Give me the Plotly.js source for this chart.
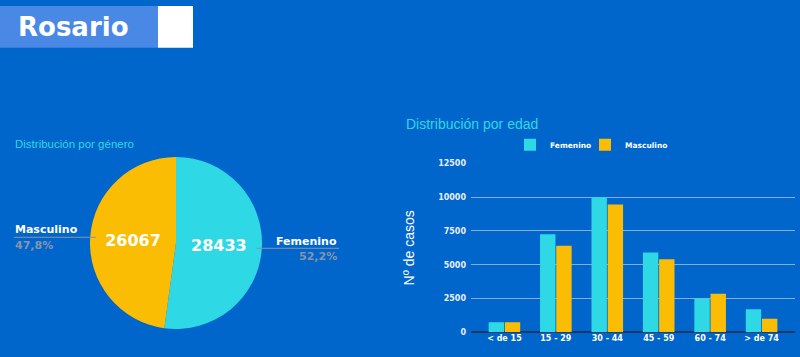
<!DOCTYPE html>
<html><head><meta charset="utf-8">
<script src="https://cdn.plot.ly/plotly-3.0.1.min.js"></script>
<style>html,body{margin:0;padding:0;background:#0066cc;}#chart{width:800px;height:357px;}</style>
</head><body><div id="chart"></div>
<script>
// ---- data ----
const genderLabels = ["Femenino", "Masculino"];
const genderValues = [28433, 26067];
const ageGroups = ["< de 15", "15 - 29", "30 - 44", "45 - 59", "60 - 74", "> de 74"];
const femValues = [750, 7250, 10000, 5900, 2500, 1700];
const mascValues = [750, 6400, 9450, 5400, 2850, 1000];
const yTicks = [0, 2500, 5000, 7500, 10000, 12500];
const cityName = "Rosario";

// ---- style ----
const W = 800, H = 357;
const BG = "#0066cc", CYAN = "#2ed8e4", YELLOW = "#fbbc04", GRAY = "#8894a8";
const px = x => x / W, py = y => (H - y) / H;
const BOLD = "DejaVu Sans";

const total = genderValues.reduce((a, b) => a + b, 0);
const pct = v => (v / total * 100).toFixed(1).replace(".", ",") + "%";

const traces = [
  {
    type: "pie", labels: genderLabels, values: genderValues, sort: false,
    direction: "clockwise", rotation: 0,
    marker: {colors: [CYAN, YELLOW], line: {width: 0}},
    texttemplate: "%{value:.0f}", textposition: "inside", insidetextorientation: "horizontal",
    textfont: {family: BOLD, size: 16, color: "#ffffff", weight: "bold"},
    domain: {x: [px(90), px(262)], y: [py(329), py(157)]},
    showlegend: false, hoverinfo: "none"
  },
  {
    type: "bar", name: "Femenino", x: ageGroups, y: femValues,
    marker: {color: CYAN}, hoverinfo: "none", legend: "legend"
  },
  {
    type: "bar", name: "Masculino", x: ageGroups, y: mascValues,
    marker: {color: YELLOW}, hoverinfo: "none", legend: "legend2"
  }
];

const annotations = [
  {text: cityName, x: px(16), y: py(27), xref: "paper", yref: "paper", xanchor: "left", yanchor: "middle",
   showarrow: false, font: {family: BOLD, size: 26, color: "#ffffff", weight: "bold"}},
  {text: "Distribución por género", x: px(13), y: py(143.5), xref: "paper", yref: "paper", xanchor: "left", yanchor: "middle",
   showarrow: false, font: {family: "Arial", size: 11.5, color: CYAN}},
  {text: "Distribución por edad", x: px(404), y: py(123.5), xref: "paper", yref: "paper", xanchor: "left", yanchor: "middle",
   showarrow: false, font: {family: "Arial", size: 14, color: CYAN}},
  {text: genderLabels[0], x: px(339), y: py(241), xref: "paper", yref: "paper", xanchor: "right", yanchor: "middle",
   showarrow: false, font: {family: BOLD, size: 11, color: "#ffffff", weight: "bold"}},
  {text: pct(genderValues[0]), x: px(339), y: py(256.5), xref: "paper", yref: "paper", xanchor: "right", yanchor: "middle",
   showarrow: false, font: {family: BOLD, size: 11, color: GRAY, weight: "bold"}},
  {text: genderLabels[1], x: px(13), y: py(230), xref: "paper", yref: "paper", xanchor: "left", yanchor: "middle",
   showarrow: false, font: {family: BOLD, size: 11, color: "#ffffff", weight: "bold"}},
  {text: pct(genderValues[1]), x: px(13), y: py(245.5), xref: "paper", yref: "paper", xanchor: "left", yanchor: "middle",
   showarrow: false, font: {family: BOLD, size: 11, color: GRAY, weight: "bold"}}
];

const shapes = [
  {type: "rect", xref: "paper", yref: "paper", x0: 0, x1: px(158), y0: py(47.7), y1: py(6), fillcolor: "#4a88e6", line: {width: 0}, layer: "below"},
  {type: "rect", xref: "paper", yref: "paper", x0: px(158), x1: px(193), y0: py(47.7), y1: py(6), fillcolor: "#ffffff", line: {width: 0}, layer: "below"},
  {type: "line", xref: "paper", yref: "paper", x0: px(256.5), x1: px(339), y0: py(248.3), y1: py(248.3), line: {color: GRAY, width: 1}},
  {type: "line", xref: "paper", yref: "paper", x0: px(14), x1: px(96), y0: py(237.3), y1: py(237.3), line: {color: GRAY, width: 1}}
];

const legendFont = {family: BOLD, size: 7.5, color: "#ffffff", weight: "bold"};

const layout = {
  width: W, height: H, margin: {l: 0, r: 0, t: 0, b: 0},
  paper_bgcolor: BG, plot_bgcolor: BG,
  barmode: "group", bargap: 0.37, bargroupgap: 0.05,
  xaxis: {
    domain: [px(471), px(795)], range: [-0.65, 5.65], type: "category",
    showgrid: false, zeroline: false, showline: false, ticks: "",
    tickfont: {family: BOLD, size: 8, color: "#ffffff", weight: "bold"}, fixedrange: true
  },
  yaxis: {
    domain: [py(332.3), py(163.3)], range: [0, 12500],
    tickvals: yTicks, ticktext: yTicks.map(String),
    showgrid: true, gridcolor: "rgba(190,205,230,0.7)", gridwidth: 1,
    zeroline: true, zerolinecolor: "#1b3668", zerolinewidth: 2, showline: false, ticks: "",
    tickfont: {family: BOLD, size: 8, color: "#e8eef8", weight: "bold"},
    ticklabelstandoff: 4,
    title: {text: "Nº de casos", font: {family: "Arial", size: 14, color: "#ffffff"}, standoff: 20},
    fixedrange: true
  },
  showlegend: true,
  legend: {
    orientation: "h", x: px(510), y: py(144.7), xanchor: "left", yanchor: "middle",
    bgcolor: "rgba(0,0,0,0)", font: legendFont, itemwidth: 30
  },
  legend2: {
    orientation: "h", x: px(585), y: py(144.7), xanchor: "left", yanchor: "middle",
    bgcolor: "rgba(0,0,0,0)", font: legendFont, itemwidth: 30
  },
  annotations: annotations, shapes: shapes
};

Plotly.newPlot("chart", traces, layout, {staticPlot: true, displayModeBar: false});
</script></body></html>
